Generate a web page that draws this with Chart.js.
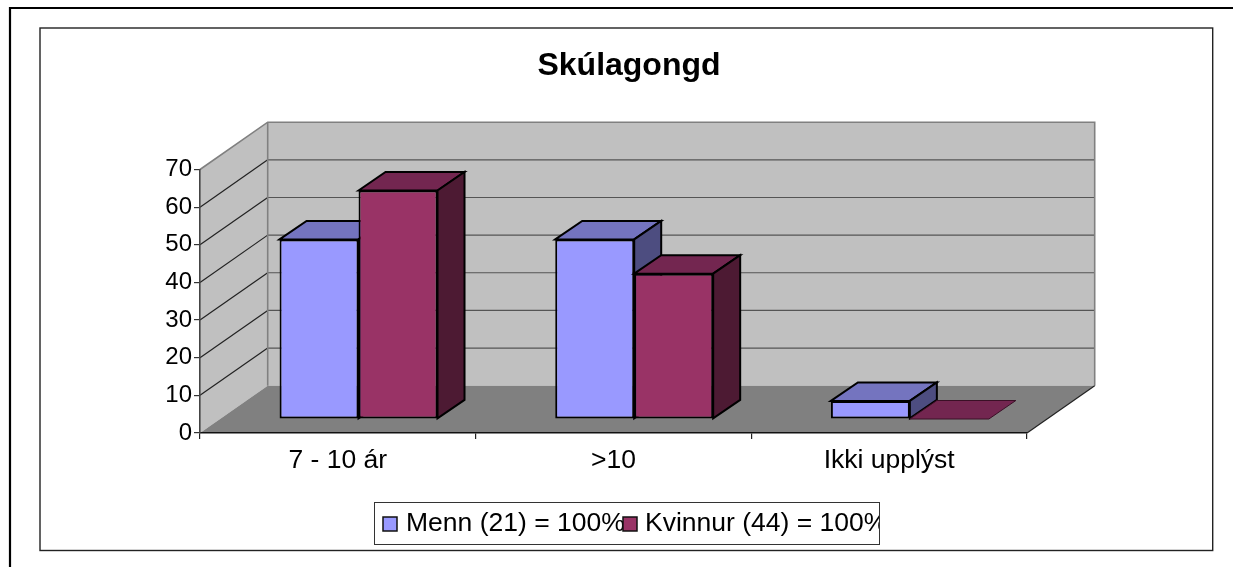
<!DOCTYPE html>
<html><head><meta charset="utf-8">
<style>html,body{margin:0;padding:0;background:#fff}canvas{display:block}</style>
<script src="https://cdn.jsdelivr.net/npm/chart.js@4"></script></head>
<body><canvas id="c" width="1234" height="567"></canvas>
<script>
const categories = ['7 - 10 ár', '>10', 'Ikki upplýst'];
const menn = [47.7, 47.7, 4.8];
const kvinnur = [60.7, 38.6, 0];
const seriesLabels = ['Menn (21) = 100%', 'Kvinnur (44) = 100%'];
const chartTitle = 'Skúlagongd';
const yTicks = [0, 10, 20, 30, 40, 50, 60, 70];

const FONT = '"Liberation Sans", Arial, sans-serif';
const WALL_DX = 67.7, WALL_DY = -47.3;   // depth of the 3D box
const BAR_DX = 20.7, BAR_DY = -14;       // bar plane offset from front plane
const BAR_DEPTH_X = 27, BAR_DEPTH_Y = -18.5;
const shades = [
  {front:'#9999FF', top:'#7474BF', side:'#4D4D80'},
  {front:'#993366', top:'#732650', side:'#4D1A33'}
];

function poly(ctx, pts, fill, stroke, lw){
  ctx.beginPath();
  pts.forEach((p,i)=> i ? ctx.lineTo(p[0],p[1]) : ctx.moveTo(p[0],p[1]));
  ctx.closePath();
  if(fill){ctx.fillStyle=fill;ctx.fill();}
  if(stroke){ctx.strokeStyle=stroke;ctx.lineWidth=lw;ctx.lineJoin='miter';ctx.stroke();}
}

const box3d = {
  id:'box3d',
  afterLayout(chart){
    chart.titleBlock.left += 115.5; chart.titleBlock.right += 115.5;
  },
  beforeDraw(chart){
    const ctx = chart.ctx, a = chart.chartArea, y = chart.scales.y;
    ctx.save();
    ctx.fillStyle='#fff'; ctx.fillRect(0,0,chart.width,chart.height);
    // outer frame
    ctx.strokeStyle='#000'; ctx.lineWidth=2.2;
    ctx.beginPath(); ctx.moveTo(10,567); ctx.lineTo(10,8); ctx.lineTo(1233,8); ctx.stroke();
    // chart frame
    ctx.strokeStyle='#222'; ctx.lineWidth=1.4;
    ctx.strokeRect(40,28,1172.7,522.5);
    // walls and floor
    const L=a.left,R=a.right,T=a.top,B=a.bottom,dx=WALL_DX,dy=WALL_DY;
    poly(ctx,[[L,B],[L+dx,B+dy],[L+dx,T+dy],[L,T]],'#C0C0C0');
    poly(ctx,[[L+dx,B+dy],[R+dx,B+dy],[R+dx,T+dy],[L+dx,T+dy]],'#C0C0C0');
    poly(ctx,[[L,B],[L+dx,B+dy],[R+dx,B+dy],[R,B]],'#808080');
    ctx.lineWidth=1.2;
    yTicks.slice(1,-1).forEach(v=>{
      const p=y.getPixelForValue(v);
      ctx.strokeStyle='#222';
      ctx.beginPath();ctx.moveTo(L,p);ctx.lineTo(L+dx,p+dy);ctx.stroke();
      ctx.strokeStyle='#555';
      ctx.beginPath();ctx.moveTo(L+dx,p+dy);ctx.lineTo(R+dx,p+dy);ctx.stroke();
    });
    ctx.strokeStyle='#808080';ctx.lineWidth=1.6;
    ctx.beginPath();ctx.moveTo(L,T);ctx.lineTo(L+dx,T+dy);ctx.lineTo(R+dx,T+dy);ctx.lineTo(R+dx,B+dy);ctx.stroke();
    ctx.beginPath();ctx.moveTo(L+dx,T+dy);ctx.lineTo(L+dx,B+dy);ctx.stroke();
    ctx.strokeStyle='#222';ctx.lineWidth=1.2;
    ctx.beginPath();ctx.moveTo(R+dx,B+dy);ctx.lineTo(R,B);ctx.stroke();
    ctx.restore();
  },
  beforeDatasetsDraw(chart){
    // Men are drawn first, women over them, as in the reference's depth order.
    const ctx=chart.ctx;
    [0,1].forEach(i=>{
      const meta=chart.getDatasetMeta(i), s=shades[i];
      ctx.save();
      ctx.translate(BAR_DX,BAR_DY);
      meta.data.forEach(el=>{
        const p=el.getProps(['x','y','base','width'],true);
        const l=p.x-p.width/2,r=p.x+p.width/2,t=p.y,b=p.base,dx=BAR_DEPTH_X,dy=BAR_DEPTH_Y;
        const flat=Math.abs(b-t)<0.5;
        poly(ctx,[[l,t],[l+dx,t+dy],[r+dx,t+dy],[r,t]],s.top,flat?'#3a1026':'#000',flat?1:2);
        if(!flat) poly(ctx,[[r,t],[r+dx,t+dy],[r+dx,b+dy],[r,b]],s.side,'#000',2);
      });
      meta.controller.draw();
      ctx.restore();
    });
    return false;
  },
  afterDraw(chart){
    const ctx=chart.ctx;
    ctx.save();
    // legend box
    ctx.fillStyle='#fff';ctx.strokeStyle='#333';ctx.lineWidth=1;
    ctx.fillRect(374,502,506,43);ctx.strokeRect(374.5,502.5,505,42);
    ctx.beginPath();ctx.rect(374,502,505,43);ctx.clip();
    ctx.font='26.5px '+FONT;ctx.textBaseline='alphabetic';ctx.textAlign='left';
    const sw=[383,623],tx=[406,645];
    seriesLabels.forEach((lab,i)=>{
      ctx.fillStyle='#000';ctx.fillText(lab,tx[i],531);
    });
    seriesLabels.forEach((lab,i)=>{
      ctx.fillStyle=shades[i].front;ctx.strokeStyle='#111';ctx.lineWidth=1.5;
      ctx.fillRect(sw[i],517,14,14);ctx.strokeRect(sw[i],517,14,14);
    });
    ctx.restore();
  }
};

new Chart(document.getElementById('c'),{
  type:'bar',
  data:{labels:categories,datasets:[
    {label:seriesLabels[0],data:menn,backgroundColor:shades[0].front,borderColor:'#000',borderWidth:2,borderSkipped:false,clip:false},
    {label:seriesLabels[1],data:kvinnur,backgroundColor:shades[1].front,borderColor:'#000',borderWidth:2,borderSkipped:false,clip:false}
  ]},
  plugins:[box3d],
  options:{
    responsive:false,animation:false,devicePixelRatio:1,
    categoryPercentage:0.573,barPercentage:1,
    layout:{padding:{left:0,top:0,right:207,bottom:74}},
    plugins:{
      legend:{display:false},tooltip:{enabled:false},
      title:{display:true,text:chartTitle,color:'#000',font:{family:FONT,size:32,weight:'bold'},padding:{top:47,bottom:84.1}}
    },
    scales:{
      x:{
        afterFit(s){s.height=60;},
        grid:{drawOnChartArea:false,drawTicks:true,tickLength:6,color:'#222',lineWidth:1.2},
        border:{color:'#111',width:1.6},
        ticks:{color:'#000',font:{family:FONT,size:26.5},padding:6,maxRotation:0}
      },
      y:{
        min:0,max:70,
        afterFit(s){s.width=200;},
        afterBuildTicks(s){s.ticks=yTicks.map(v=>({value:v}));},
        grid:{drawOnChartArea:false,drawTicks:true,tickLength:6,color:'#333',lineWidth:1.2},
        border:{color:'#444',width:1.6},
        ticks:{color:'#000',font:{family:FONT,size:24},padding:2}
      }
    }
  }
});
</script></body></html>
